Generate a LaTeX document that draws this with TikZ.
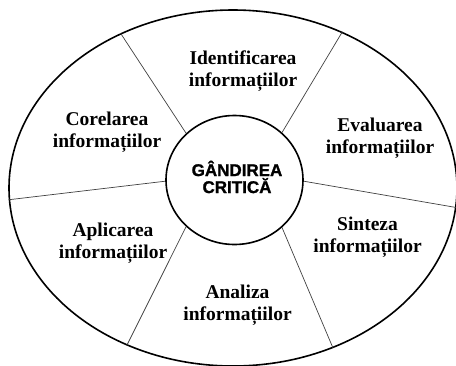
\documentclass[tikz,border=0pt]{standalone}
\usepackage{fontspec}
\setmainfont{Liberation Serif}
\setsansfont{Liberation Sans}
\newfontfamily\critfont{Liberation Sans Bold}[FakeBold=1.2]
\usetikzlibrary{shapes.geometric}
\begin{document}
\begin{tikzpicture}[x=1pt,y=-1pt]
\tikzset{lbl/.style={align=center, inner sep=0pt, font=\fontsize{19.5}{22}\selectfont\bfseries},
  divider/.style={draw=black!75, line width=0.7pt}}
\useasboundingbox (0,0) rectangle (456,365);
\node[draw, ellipse, line width=1.6pt, minimum width=448pt, minimum height=356pt, inner sep=0pt] (rim) at (233,188){};
\node[draw, ellipse, line width=1.6pt, minimum width=137pt, minimum height=129pt, inner sep=0pt] (crit) at (234.5,180){};
\node[align=center, inner sep=0pt, font=\fontsize{17}{17}\selectfont\critfont] (critlbl) at (237,177){GÂNDIREA\\CRITICĂ};
\node[lbl] (ident) at (243,71.5){Identificarea\\informațiilor};
\node[lbl] (eval) at (380,138.5){Evaluarea\\informațiilor};
\node[lbl] (sint) at (367.5,237.5){Sinteza\\informațiilor};
\node[lbl] (anal) at (237.5,305.5){Analiza\\informațiilor};
\node[lbl] (aplic) at (113,243.5){Aplicarea\\informațiilor};
\node[lbl] (corel) at (107,132){Corelarea\\informațiilor};
\draw[divider](crit.136) -- (rim.126);
\draw[divider](crit.45) -- (rim.55);
\draw[divider](crit.359) -- (rim.355);
\draw[divider](crit.315) -- (rim.302);
\draw[divider](crit.224) -- (rim.236);
\draw[divider](crit.181) -- (rim.183.5);
\end{tikzpicture}
\end{document}
